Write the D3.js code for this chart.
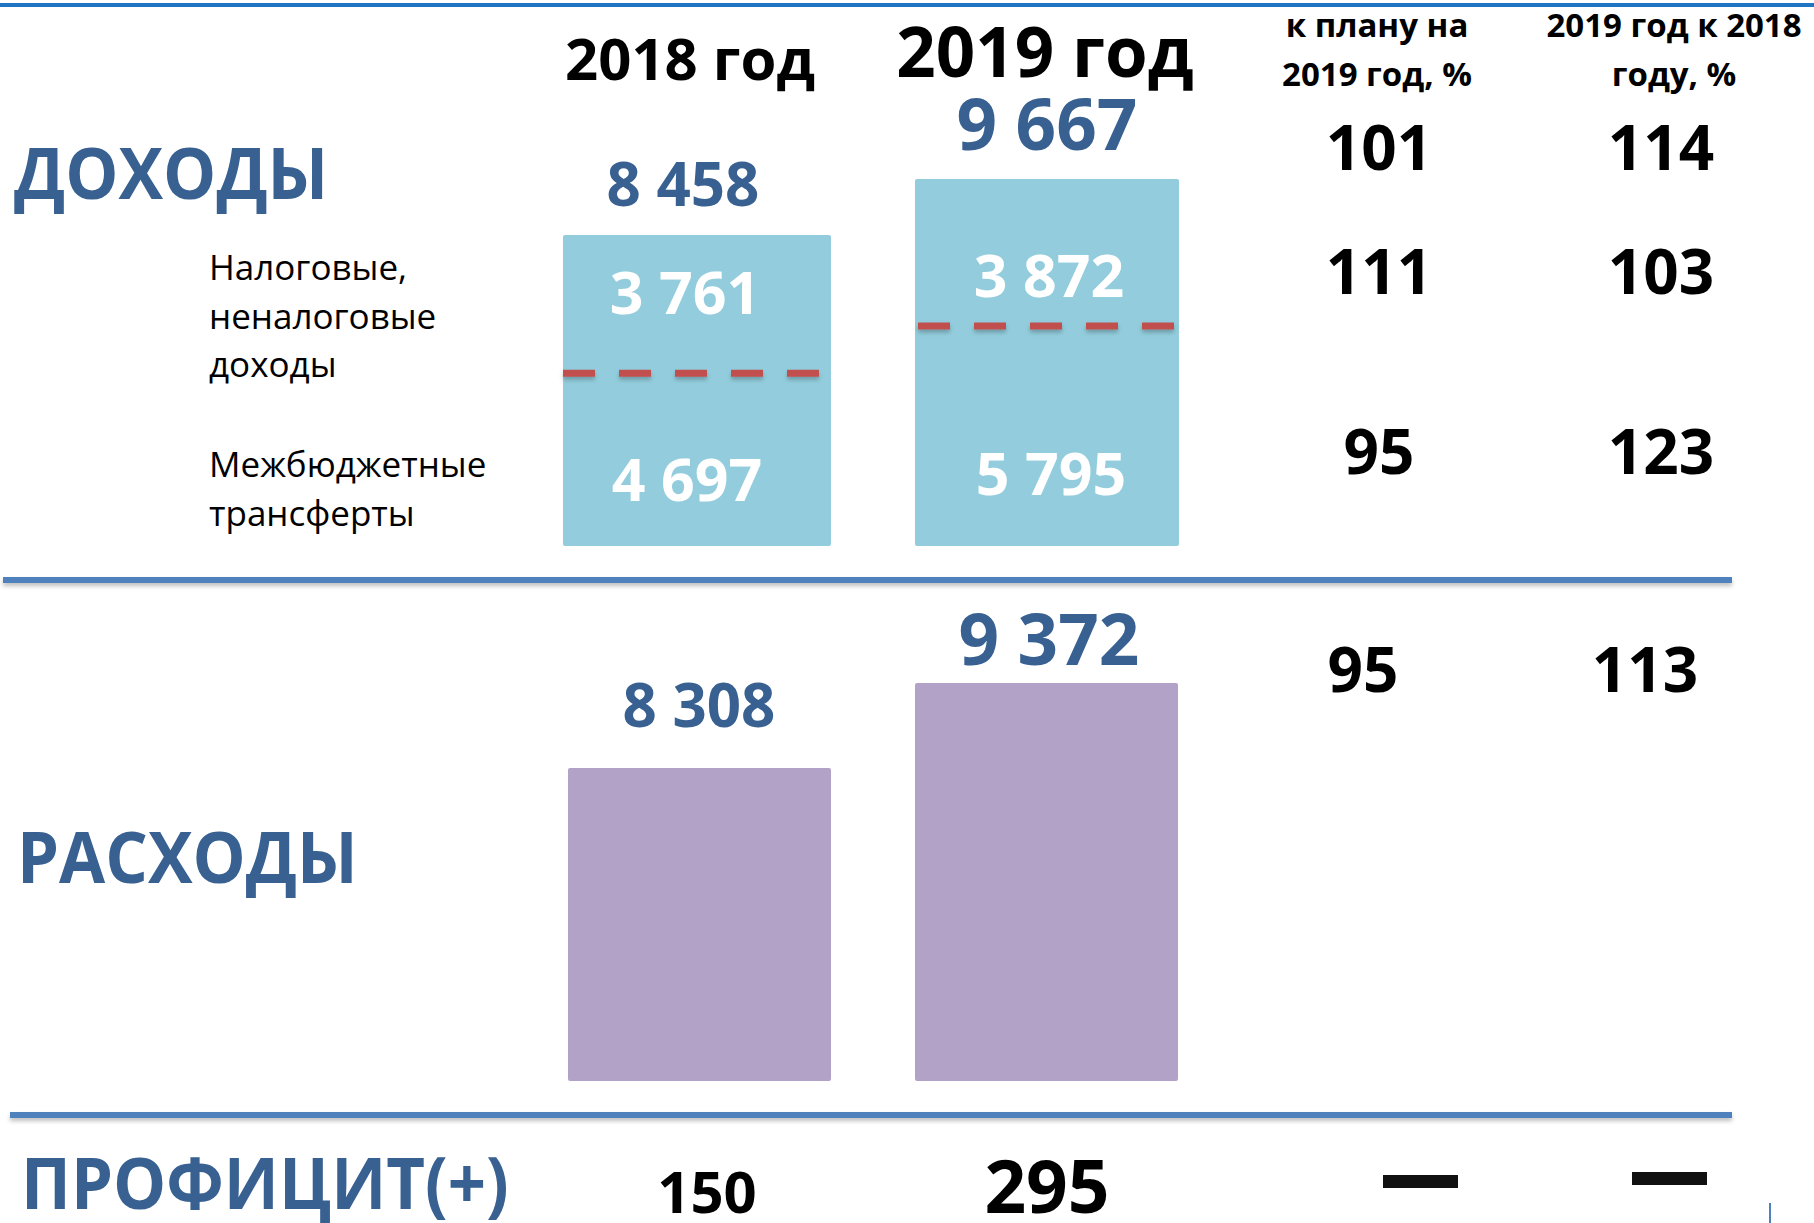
<!DOCTYPE html>
<html>
<head>
<meta charset="utf-8">
<script src="https://cdn.jsdelivr.net/npm/d3@7"></script>
<style>
  body { margin: 0; background: #fff; }
  svg { display: block; }
  text { font-family: "Open Sans", "Noto Sans", sans-serif; }
</style>
</head>
<body>
<div id="container"></div>
<script>
/* DATA */
const years = ["2018 год", "2019 год"];
const incomeTotal = [8458, 9667];
const incomeTax = [3761, 3872];
const incomeTransfers = [4697, 5795];
const expenses = [8308, 9372];
const surplus = [150, 295];

// percent columns, rows: income, tax, transfers, expenses
const pctPlan = [101, 111, 95, 95];
const pctPrev = [114, 103, 123, 113];
const colHeaders = [["к плану на", "2019 год, %"], ["2019 год к 2018", "году, %"]];
const sectionTitles = ["ДОХОДЫ", "РАСХОДЫ", "ПРОФИЦИТ(+)"];
const incomeLabels = [["Налоговые,", "неналоговые", "доходы"], ["Межбюджетные", "трансферты"]];

/* CONSTANTS */
const width = 1814, height = 1223;
const blueText = "#386192";
const incomeColor = "#93cddd";
const expenseColor = "#b3a2c7";

const fmt = d3.formatLocale({ decimal: ",", thousands: " ", grouping: [3], currency: ["", ""] }).format(",d");

const svg = d3.select("#container").append("svg")
  .attr("width", width)
  .attr("height", height);

// soft shadow under rules (user space so thin lines keep a region)
const sh = svg.append("defs").append("filter")
  .attr("id", "shadow")
  .attr("filterUnits", "userSpaceOnUse")
  .attr("x", 0).attr("y", 0).attr("width", width).attr("height", height);
sh.append("feDropShadow")
  .attr("dx", 0).attr("dy", 3).attr("stdDeviation", 2)
  .attr("flood-color", "#000").attr("flood-opacity", 0.25);

/* SCALES */
const x = d3.scaleBand()
  .domain(years)
  .range([563, 1179])
  .paddingInner(0.25);

const yIncome = d3.scaleLinear()
  .domain([1740, d3.max(incomeTotal)])
  .range([546, 179]);

const yExpense = d3.scaleLinear()
  .domain([4390, d3.max(expenses)])
  .range([1081, 683]);

const colX = d3.scalePoint()
  .domain([0, 1])
  .range([1379, 1661]);

const rowY = [170, 294, 474, 692];

// top rule
svg.append("line")
  .attr("x1", 0).attr("x2", width)
  .attr("y1", 5).attr("y2", 5)
  .attr("stroke", "#1f74c4")
  .attr("stroke-width", 4);

// section separators
svg.selectAll(".sep")
  .data([[3, 580], [10, 1115]])
  .join("line")
  .attr("class", "sep")
  .attr("x1", d => d[0]).attr("x2", 1732)
  .attr("y1", d => d[1]).attr("y2", d => d[1])
  .attr("stroke", "#4f81bd")
  .attr("stroke-width", 6)
  .attr("filter", "url(#shadow)");

// year headers
svg.selectAll(".year")
  .data(years)
  .join("text")
  .attr("class", "year")
  .attr("x", d => x(d) + x.bandwidth() / 2 + (d === years[0] ? -5 : -2))
  .attr("y", (d, i) => i === 0 ? 80 : 77)
  .attr("text-anchor", "middle")
  .attr("font-weight", 700)
  .attr("font-size", (d, i) => i === 0 ? 58 : 69)
  .attr("fill", "#000")
  .text(d => d);

// percent column headers
colHeaders.forEach((lines, i) => {
  svg.append("text")
    .attr("text-anchor", "middle")
    .attr("font-weight", 700)
    .attr("font-size", 33)
    .attr("fill", "#000")
    .selectAll("tspan")
    .data(lines)
    .join("tspan")
    .attr("x", colX(i) + (i === 0 ? -2 : 13))
    .attr("y", (d, j) => 37 + j * 49)
    .text(d => d);
});

// section titles (narrowed to match the condensed face)
svg.selectAll(".section")
  .data(sectionTitles)
  .join("text")
  .attr("class", "section")
  .attr("transform", (d, i) => `translate(${[14, 17, 21][i]},${[199, 883, 1209][i]}) scale(0.93,1)`)
  .attr("font-weight", 700)
  .attr("font-size", 72)
  .attr("fill", blueText)
  .text(d => d);

// income labels
incomeLabels.forEach((lines, i) => {
  svg.append("text")
    .attr("font-size", 35)
    .attr("fill", "#000")
    .selectAll("tspan")
    .data(lines)
    .join("tspan")
    .attr("x", 209)
    .attr("y", (d, j) => [280, 477][i] + j * 48.5)
    .text(d => d);
});

/* INCOME BARS */
const incomeData = years.map((y, i) => ({
  year: y, total: incomeTotal[i], tax: incomeTax[i], transfers: incomeTransfers[i]
}));

svg.selectAll(".incBar")
  .data(incomeData)
  .join("rect")
  .attr("class", "incBar")
  .attr("x", d => x(d.year))
  .attr("y", d => yIncome(d.total))
  .attr("width", (d, i) => x.bandwidth() + (i === 0 ? 4 : 0))
  .attr("height", d => yIncome.range()[0] - yIncome(d.total))
  .attr("rx", 2)
  .attr("fill", incomeColor);

// split between tax and transfers, proportional within the bar
const splitY = d => {
  const bottom = yIncome.range()[0];
  const h = bottom - yIncome(d.total);
  return bottom - h * d.transfers / d.total;
};

svg.selectAll(".split")
  .data(incomeData)
  .join("line")
  .attr("class", "split")
  .attr("x1", (d, i) => x(d.year) + (i === 0 ? 0 : 3))
  .attr("x2", d => x(d.year) + x.bandwidth() - 4)
  .attr("y1", splitY).attr("y2", splitY)
  .attr("stroke", "#c0504d")
  .attr("stroke-width", 7)
  .attr("stroke-dasharray", "32 24")
  .attr("filter", "url(#shadow)");

// total income labels
svg.selectAll(".incTotal")
  .data(incomeData)
  .join("text")
  .attr("class", "incTotal")
  .attr("x", d => x(d.year) + x.bandwidth() / 2 + (d.year === years[0] ? -12 : 0))
  .attr("y", d => yIncome(d.total) - 29)
  .attr("text-anchor", "middle")
  .attr("font-weight", 700)
  .attr("font-size", (d, i) => i === 0 ? 60 : 71)
  .attr("fill", blueText)
  .text(d => fmt(d.total));

// inner labels
svg.selectAll(".incTax")
  .data(incomeData)
  .join("text")
  .attr("class", "incTax")
  .attr("x", (d, i) => x(d.year) + x.bandwidth() / 2 + (i === 0 ? -10 : 2))
  .attr("y", d => splitY(d) - (d.year === years[0] ? 59 : 29))
  .attr("text-anchor", "middle")
  .attr("font-weight", 700)
  .attr("font-size", 59)
  .attr("fill", "#fff")
  .text(d => fmt(d.tax));

svg.selectAll(".incTr")
  .data(incomeData)
  .join("text")
  .attr("class", "incTr")
  .attr("x", (d, i) => x(d.year) + x.bandwidth() / 2 + (i === 0 ? -8 : 4))
  .attr("y", (d, i) => [501, 495][i])
  .attr("text-anchor", "middle")
  .attr("font-weight", 700)
  .attr("font-size", 59)
  .attr("fill", "#fff")
  .text(d => fmt(d.transfers));

/* EXPENSE BARS */
const expenseData = years.map((y, i) => ({ year: y, value: expenses[i] }));

svg.selectAll(".expBar")
  .data(expenseData)
  .join("rect")
  .attr("class", "expBar")
  .attr("x", (d, i) => x(d.year) + (i === 0 ? 5 : 0))
  .attr("y", d => yExpense(d.value))
  .attr("width", x.bandwidth() - 1)
  .attr("height", d => yExpense.range()[0] - yExpense(d.value))
  .attr("rx", 2)
  .attr("fill", expenseColor);

svg.selectAll(".expLabel")
  .data(expenseData)
  .join("text")
  .attr("class", "expLabel")
  .attr("x", d => x(d.year) + x.bandwidth() / 2 + (d.year === years[0] ? 4 : 2))
  .attr("y", d => yExpense(d.value) - (d.year === years[0] ? 41 : 18))
  .attr("text-anchor", "middle")
  .attr("font-weight", 700)
  .attr("font-size", (d, i) => i === 0 ? 60 : 71)
  .attr("fill", blueText)
  .text(d => fmt(d.value));

/* PERCENT COLUMNS */
[pctPlan, pctPrev].forEach((col, c) => {
  svg.selectAll(".pct" + c)
    .data(col)
    .join("text")
    .attr("class", "pct" + c)
    .attr("x", (d, r) => colX(c) + (r === 3 ? -16 : 0))
    .attr("y", (d, r) => rowY[r])
    .attr("text-anchor", "middle")
    .attr("font-weight", 700)
    .attr("font-size", 62)
    .attr("fill", "#000")
    .text(d => d);
});

/* SURPLUS ROW */
svg.selectAll(".surplus")
  .data(surplus)
  .join("text")
  .attr("class", "surplus")
  .attr("x", (d, i) => x(years[i]) + x.bandwidth() / 2 + (i === 0 ? 12 : 0))
  .attr("y", 1213)
  .attr("text-anchor", "middle")
  .attr("font-weight", 700)
  .attr("font-size", (d, i) => i === 0 ? 58 : 73)
  .attr("fill", "#000")
  .text(d => d);

// no percent for surplus: dashes
svg.selectAll(".dash")
  .data([0, 1])
  .join("rect")
  .attr("class", "dash")
  .attr("x", c => colX(c) + (c === 0 ? 41 : 8) - 37)
  .attr("y", c => c === 0 ? 1175 : 1172)
  .attr("width", 75)
  .attr("height", 13)
  .attr("fill", "#111");

// small fragment at bottom right
svg.append("line")
  .attr("x1", 1770).attr("x2", 1770)
  .attr("y1", 1203).attr("y2", 1223)
  .attr("stroke", "#4f81bd")
  .attr("stroke-width", 2);
</script>
</body>
</html>
